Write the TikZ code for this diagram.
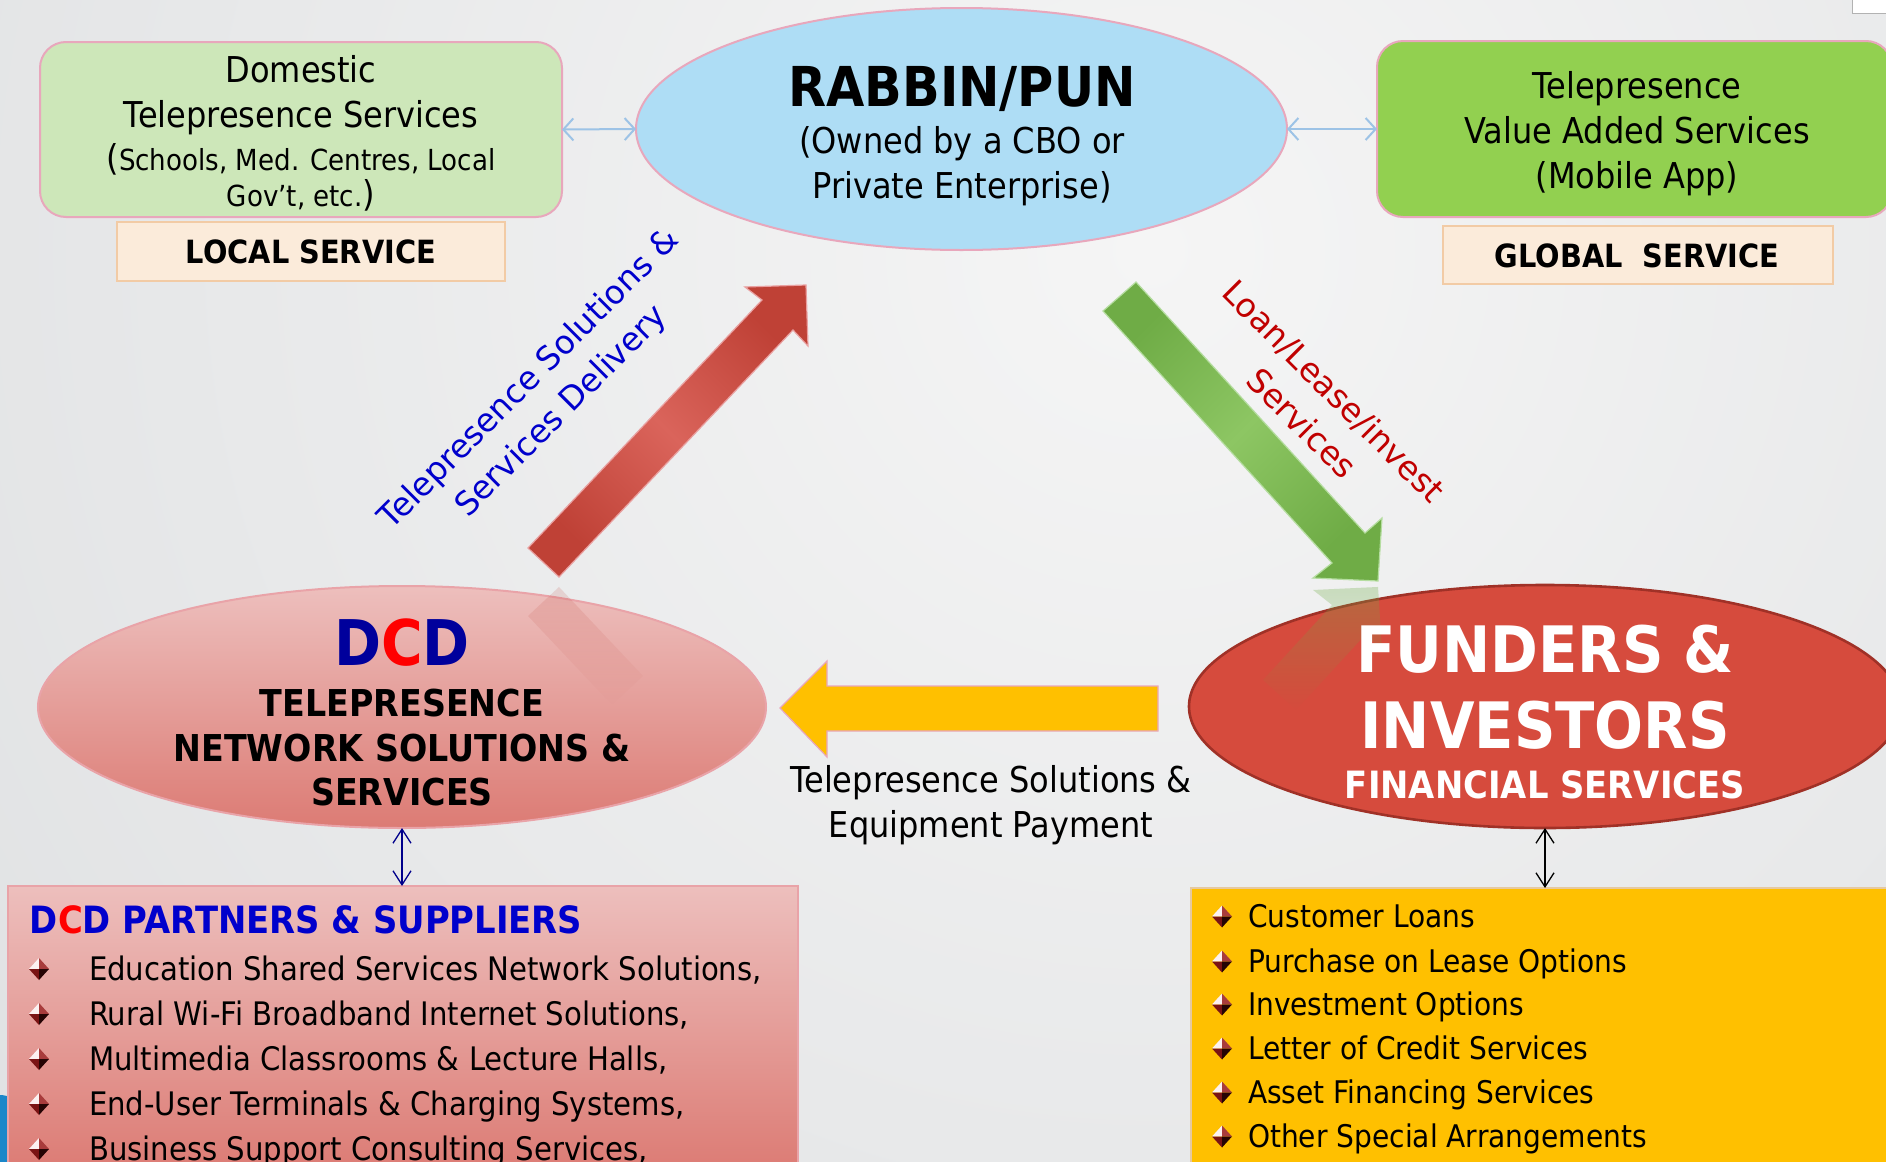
\documentclass[tikz,border=0pt]{standalone}
\usepackage{fontspec}
\setmainfont{DejaVu Sans}[FakeStretch=0.9]
\newfontfamily\widefont{DejaVu Sans}
\usetikzlibrary{shapes.geometric,arrows.meta,fadings}
\definecolor{bgin}{HTML}{F5F5F5}
\definecolor{bgout}{HTML}{CDD0D3}
\definecolor{domgreen}{HTML}{CDE7B9}
\definecolor{vasgreen}{HTML}{92D050}
\definecolor{pinkline}{HTML}{E8A7BC}
\definecolor{peach}{HTML}{FBEBDA}
\definecolor{peachline}{HTML}{F2CBA5}
\definecolor{skyblue}{HTML}{AEDDF5}
\definecolor{arrowblue}{HTML}{9DC3E6}
\definecolor{labelblue}{HTML}{0000CC}
\definecolor{dcdblue}{HTML}{00009C}
\definecolor{dcdred}{HTML}{FF0000}
\definecolor{loanred}{HTML}{C00000}
\definecolor{pinktop}{HTML}{EDBFBD}
\definecolor{pinkbot}{HTML}{DC7B74}
\definecolor{pinkedge}{HTML}{E9A3A8}
\definecolor{fundred}{HTML}{D64B3D}
\definecolor{fundline}{HTML}{A03127}
\definecolor{gold}{HTML}{FFC000}
\definecolor{goldedge}{HTML}{E6C9A0}
\definecolor{redA}{HTML}{BF4136}
\definecolor{redB}{HTML}{DA645B}
\definecolor{redEdge}{HTML}{E9A0A0}
\definecolor{greenA}{HTML}{6FAC46}
\definecolor{greenB}{HTML}{8DC663}
\definecolor{greenEdge}{HTML}{B5DDA0}
\definecolor{navyarrow}{HTML}{00008B}
\definecolor{diamwhite}{HTML}{FBF1F1}
\definecolor{diamred}{HTML}{A83C3C}
\definecolor{diamdark}{HTML}{7A1414}
\definecolor{diamblack}{HTML}{250404}
\definecolor{stripblue}{HTML}{1B87C9}
\tikzset{
  txt/.style={anchor=base, inner sep=0pt, outer sep=0pt},
  bodyf/.style={txt, font=\fontsize{17.8}{21}\selectfont},
  smallf/.style={txt, font=\fontsize{14.5}{17}\selectfont},
  tagf/.style={txt, font=\bfseries\fontsize{16}{19}\selectfont},
  capsf/.style={txt, font=\bfseries\fontsize{18.5}{22}\selectfont},
  pbul/.style={txt, anchor=base west, font=\fontsize{16.2}{19}\selectfont},
  ybul/.style={txt, anchor=base west, font=\fontsize{15.6}{19}\selectfont},
  shapebox/.style={inner sep=0pt, outer sep=0pt},
  lbarrow/.style={arrowblue, line width=1pt, >={Straight Barb[length=5pt,width=11pt]}, <->},
  vbarrow/.style={line width=0.65pt, >={Straight Barb[length=7pt,width=9pt]}, <->},
  diam/.pic={
    \fill[diamwhite] (0,0) -- (-10,0) -- (0,-11) -- cycle;
    \fill[diamred] (0,0) -- (10,0) -- (0,-11) -- cycle;
    \fill[diamdark] (0,0) -- (-10,0) -- (0,11) -- cycle;
    \fill[diamblack] (0,0) -- (10,0) -- (0,11) -- cycle;
  }
}
\begin{document}
\begin{tikzpicture}[x=0.5pt,y=-0.5pt]
\useasboundingbox (0,0) rectangle (1886,1162);
\clip (0,0) rectangle (1886,1162);
% background
\shade[inner color=bgin, outer color=bgout] (-1650,-2550) rectangle (3950,3050);
% artifacts at the edges
\fill[stripblue, rounded corners=6pt] (-20,1095) rectangle (14,1180);
\draw[gray!60, fill=white] (1852,-10) rectangle (1900,13);

% top row
\node[shapebox, draw=pinkline, line width=1pt, fill=domgreen, rounded corners=13pt,
      minimum width=261pt, minimum height=87.5pt] (dom) at (301,129.5) {};
\node[shapebox, draw=peachline, line width=1pt, fill=peach,
      minimum width=194pt, minimum height=29.5pt] (localbox) at (311,251.5) {};
\node[shapebox, ellipse, draw=pinkline, line width=1pt, fill=skyblue,
      minimum width=325.5pt, minimum height=121pt] (rabbin) at (961.5,129) {};
\node[shapebox, draw=pinkline, line width=1pt, fill=vasgreen, rounded corners=13pt,
      minimum width=257.5pt, minimum height=88pt] (vas) at (1634.5,129) {};
\node[shapebox, draw=peachline, line width=1pt, fill=peach,
      minimum width=195pt, minimum height=29pt] (globalbox) at (1638,255) {};

\draw[lbarrow] (dom.east) -- (rabbin.west);
\draw[lbarrow] (rabbin.east) -- (vas.west);

\node[bodyf] (dom1) at (301,82) {Domestic};
\node[bodyf] (dom2) at (301,127) {Telepresence Services};
\node[smallf] (dom3) at (301,170.5) {{\fontsize{17.8}{20}\selectfont(}Schools, Med. Centres, Local};
\node[smallf] (dom4) at (301,206.5) {Gov’t, etc.{\fontsize{17.8}{20}\selectfont)}};
\node[tagf] (localtxt) at (311,263) {LOCAL SERVICE};

\node[txt, font=\bfseries\fontsize{27.5}{32}\selectfont] (rab1) at (962,106) {RABBIN/PUN};
\node[bodyf] (rab2) at (962,153) {(Owned by a CBO or};
\node[bodyf] (rab3) at (962,198) {Private Enterprise)};

\node[bodyf] (vas1) at (1637,98) {Telepresence};
\node[bodyf] (vas2) at (1637,143) {Value Added Services};
\node[bodyf] (vas3) at (1637,188) {(Mobile App)};
\node[tagf] (globaltxt) at (1637,267) {GLOBAL\ \ SERVICE};

% middle row shapes
\node[shapebox, ellipse, draw=pinkedge, line width=1pt, top color=pinktop, bottom color=pinkbot,
      minimum width=364pt, minimum height=121pt] (dcd) at (402,707) {};
\node[shapebox, ellipse, draw=fundline, line width=1.3pt, fill=fundred,
      minimum width=356pt, minimum height=121.5pt] (funders) at (1545,706.5) {};

% reflections
\path[fill=redA, fill opacity=0.16, path fading=south]
  (559,587) -- (528,616) -- (612,705) -- (643,676) -- cycle;
\path[fill=greenA, fill opacity=0.3, path fading=south]
  (1313,590) -- (1378,587) -- (1382,650) -- (1365,635) -- (1296,710) -- (1263,680) -- (1332,605) -- cycle;

% block arrows
\path[draw=redEdge, line width=0.6pt, top color=redA, bottom color=redA, middle color=redB, shading angle=-45]
  (528,548) -- (762,300) -- (745,287) -- (806,285) -- (808,346) -- (793,330) -- (559,577) -- cycle;
\path[draw=greenEdge, line width=0.6pt, top color=greenA, bottom color=greenA, middle color=greenB, shading angle=45]
  (1136,282) -- (1365,533) -- (1382,518) -- (1378,581) -- (1313,578) -- (1332,563) -- (1103,311) -- cycle;
\path[draw=pinkline, line width=0.6pt, fill=gold]
  (780,708) -- (827,661) -- (827,686) -- (1158,686) -- (1158,731) -- (827,731) -- (827,757) -- cycle;

% rotated labels
\node[inner sep=0pt, rotate=45, align=center, text=labelblue,
      font=\widefont\fontsize{16.3}{22.5}\selectfont] (deliverylabel) at (546,396)
      {Telepresence Solutions \&\\Services Delivery};
\node[inner sep=0pt, rotate=-45, align=center, text=loanred,
      font=\widefont\fontsize{16.5}{22.5}\selectfont] (loanlabel) at (1318,407)
      {Loan/Lease/invest\\Services};

% DCD text
\node[txt, font=\bfseries\fontsize{31.5}{36}\selectfont] (dcd1) at (402,665)
  {\textcolor{dcdblue}{D}\textcolor{dcdred}{C}\textcolor{dcdblue}{D}};
\node[capsf] (dcd2) at (402,716) {TELEPRESENCE};
\node[capsf] (dcd3) at (402,761) {NETWORK SOLUTIONS \&};
\node[capsf] (dcd4) at (402,805) {SERVICES};

% middle label
\node[bodyf] (mid1) at (991,792) {Telepresence Solutions \&};
\node[bodyf] (mid2) at (991,837) {Equipment Payment};

% funders text
\node[txt, text=white, font=\bfseries\fontsize{32}{36}\selectfont] (fund1) at (1545,672) {FUNDERS \&};
\node[txt, text=white, font=\bfseries\fontsize{32}{36}\selectfont] (fund2) at (1545,748) {INVESTORS};
\node[txt, text=white, font=\bfseries\fontsize{18.8}{22}\selectfont] (fund3) at (1545,798) {FINANCIAL SERVICES};

% bottom boxes
\node[shapebox, draw=pinkedge, line width=1pt, top color=pinktop, bottom color=pinkbot,
      minimum width=395pt, minimum height=143pt] (pinkbox) at (403,1029) {};
\node[shapebox, draw=goldedge, line width=0.6pt, fill=gold,
      minimum width=352.5pt, minimum height=142pt] (yellowbox) at (1543.5,1030) {};

\draw[vbarrow, navyarrow] (dcd.south) -- (dcd.south |- pinkbox.north);
\draw[vbarrow, black] (funders.south) -- (funders.south |- yellowbox.north);

\node[txt, anchor=base west, text=labelblue, font=\bfseries\fontsize{18.8}{22}\selectfont] (ptitle) at (30,933)
  {D\textcolor{dcdred}{C}D PARTNERS \& SUPPLIERS};
\pic at (39,969) {diam};
\pic at (39,1014) {diam};
\pic at (39,1059) {diam};
\pic at (39,1104) {diam};
\pic at (39,1149) {diam};
\node[pbul] (pb1) at (89,980) {Education Shared Services Network Solutions,};
\node[pbul] (pb2) at (89,1025) {Rural Wi-Fi Broadband Internet Solutions,};
\node[pbul] (pb3) at (89,1070) {Multimedia Classrooms \& Lecture Halls,};
\node[pbul] (pb4) at (89,1115) {End-User Terminals \& Charging Systems,};
\node[pbul] (pb5) at (89,1160) {Business Support Consulting Services,};

\pic at (1222,916.5) {diam};
\pic at (1222,961.5) {diam};
\pic at (1222,1004.5) {diam};
\pic at (1222,1048.5) {diam};
\pic at (1222,1092.5) {diam};
\pic at (1222,1136.5) {diam};
\node[ybul] (yb1) at (1248,927) {Customer Loans};
\node[ybul] (yb2) at (1248,972) {Purchase on Lease Options};
\node[ybul] (yb3) at (1248,1015) {Investment Options};
\node[ybul] (yb4) at (1248,1059) {Letter of Credit Services};
\node[ybul] (yb5) at (1248,1103) {Asset Financing Services};
\node[ybul] (yb6) at (1248,1147) {Other Special Arrangements};
\end{tikzpicture}
\end{document}
